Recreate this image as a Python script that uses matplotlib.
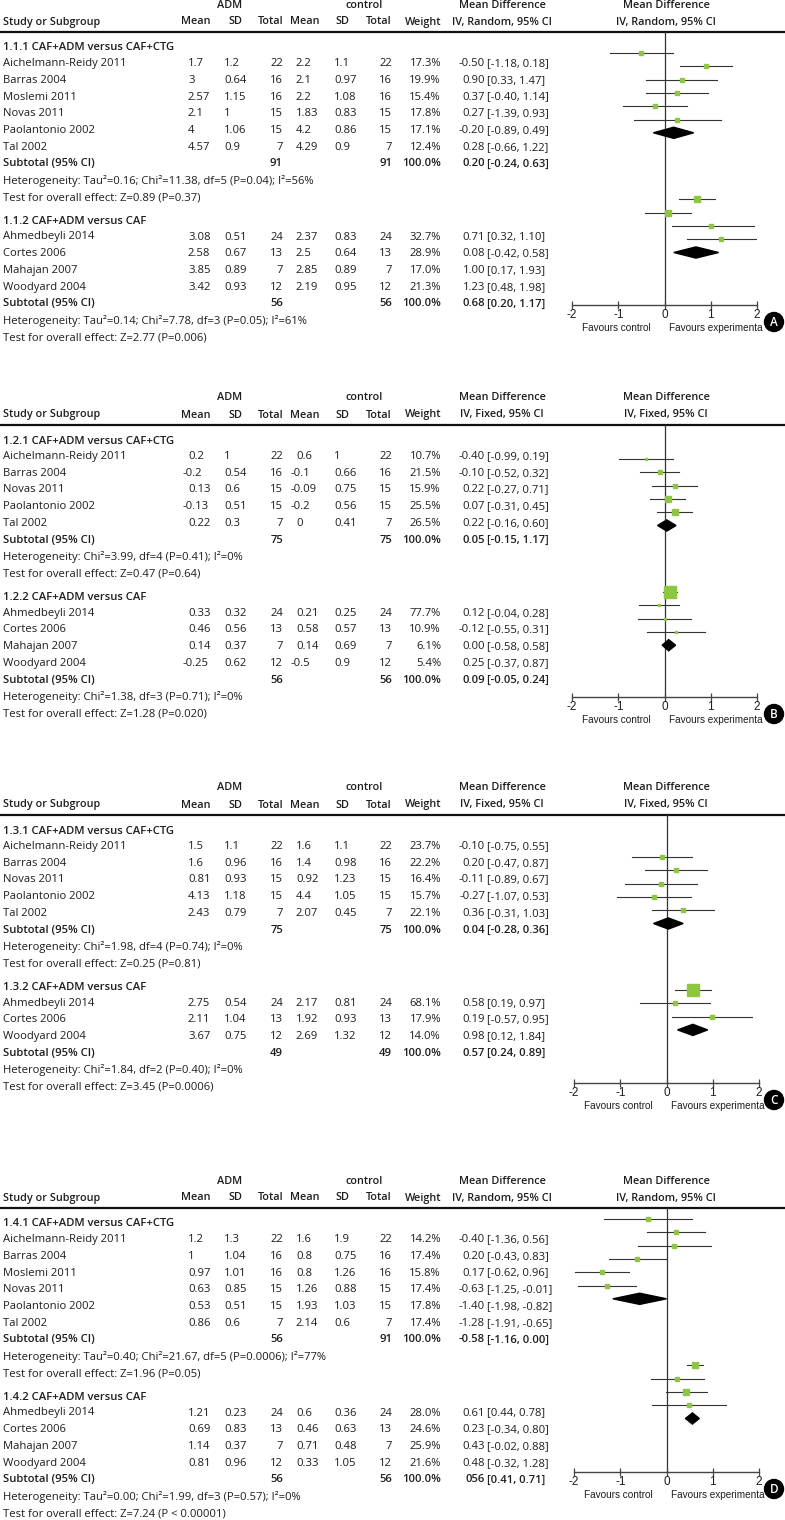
import matplotlib
matplotlib.use("Agg")
import matplotlib.pyplot as plt
from matplotlib.patches import Circle, Polygon

plt.rcParams['font.family'] = ['Open Sans', 'DejaVu Sans']

# ---- data: (study, adm mean, adm sd, adm n, ctl mean, ctl sd, ctl n, weight, CI text)
a1_title = "1.1.1 CAF+ADM versus CAF+CTG"
a1_rows = [
    ("Aichelmann-Reidy 2011", 1.7, 1.2, 22, 2.2, 1.1, 22, 17.3, "-0.50 [-1.18, 0.18]"),
    ("Barras 2004", 3, 0.64, 16, 2.1, 0.97, 16, 19.9, "0.90 [0.33, 1.47]"),
    ("Moslemi 2011", 2.57, 1.15, 16, 2.2, 1.08, 16, 15.4, "0.37 [-0.40, 1.14]"),
    ("Novas 2011", 2.1, 1, 15, 1.83, 0.83, 15, 17.8, "0.27 [-1.39, 0.93]"),
    ("Paolantonio 2002", 4, 1.06, 15, 4.2, 0.86, 15, 17.1, "-0.20 [-0.89, 0.49]"),
    ("Tal 2002", 4.57, 0.9, 7, 4.29, 0.9, 7, 12.4, "0.28 [-0.66, 1.22]"),
]
a1_sub = (91, 91, "0.20 [-0.24, 0.63]")
a1_het = "Heterogeneity: Tau²=0.16; Chi²=11.38, df=5 (P=0.04); I²=56%"
a1_test = "Test for overall effect: Z=0.89 (P=0.37)"
a1_md = [-0.50, 0.90, 0.37, 0.27, -0.20, 0.28]
a1_lo = [-1.18, 0.33, -0.40, -0.39, -0.89, -0.66]
a1_hi = [0.18, 1.47, 1.14, 0.93, 0.49, 1.22]
a1_dia = (0.20, -0.24, 0.63)

a2_title = "1.1.2 CAF+ADM versus CAF"
a2_rows = [
    ("Ahmedbeyli 2014", 3.08, 0.51, 24, 2.37, 0.83, 24, 32.7, "0.71 [0.32, 1.10]"),
    ("Cortes 2006", 2.58, 0.67, 13, 2.5, 0.64, 13, 28.9, "0.08 [-0.42, 0.58]"),
    ("Mahajan 2007", 3.85, 0.89, 7, 2.85, 0.89, 7, 17.0, "1.00 [0.17, 1.93]"),
    ("Woodyard 2004", 3.42, 0.93, 12, 2.19, 0.95, 12, 21.3, "1.23 [0.48, 1.98]"),
]
a2_sub = (56, 56, "0.68 [0.20, 1.17]")
a2_het = "Heterogeneity: Tau²=0.14; Chi²=7.78, df=3 (P=0.05); I²=61%"
a2_test = "Test for overall effect: Z=2.77 (P=0.006)"
a2_md = [0.71, 0.08, 1.00, 1.23]
a2_lo = [0.32, -0.42, 0.17, 0.48]
a2_hi = [1.10, 0.58, 1.93, 1.98]
a2_dia = (0.68, 0.20, 1.17)

b1_title = "1.2.1 CAF+ADM versus CAF+CTG"
b1_rows = [
    ("Aichelmann-Reidy 2011", 0.2, 1, 22, 0.6, 1, 22, 10.7, "-0.40 [-0.99, 0.19]"),
    ("Barras 2004", -0.2, 0.54, 16, -0.1, 0.66, 16, 21.5, "-0.10 [-0.52, 0.32]"),
    ("Novas 2011", 0.13, 0.6, 15, -0.09, 0.75, 15, 15.9, "0.22 [-0.27, 0.71]"),
    ("Paolantonio 2002", -0.13, 0.51, 15, -0.2, 0.56, 15, 25.5, "0.07 [-0.31, 0.45]"),
    ("Tal 2002", 0.22, 0.3, 7, 0, 0.41, 7, 26.5, "0.22 [-0.16, 0.60]"),
]
b1_sub = (75, 75, "0.05 [-0.15, 1.17]")
b1_het = "Heterogeneity: Chi²=3.99, df=4 (P=0.41); I²=0%"
b1_test = "Test for overall effect: Z=0.47 (P=0.64)"
b1_md = [-0.40, -0.10, 0.22, 0.07, 0.22]
b1_lo = [-0.99, -0.52, -0.27, -0.31, -0.16]
b1_hi = [0.19, 0.32, 0.71, 0.45, 0.60]
b1_dia = (0.05, -0.15, 0.25)

b2_title = "1.2.2 CAF+ADM versus CAF"
b2_rows = [
    ("Ahmedbeyli 2014", 0.33, 0.32, 24, 0.21, 0.25, 24, 77.7, "0.12 [-0.04, 0.28]"),
    ("Cortes 2006", 0.46, 0.56, 13, 0.58, 0.57, 13, 10.9, "-0.12 [-0.55, 0.31]"),
    ("Mahajan 2007", 0.14, 0.37, 7, 0.14, 0.69, 7, 6.1, "0.00 [-0.58, 0.58]"),
    ("Woodyard 2004", -0.25, 0.62, 12, -0.5, 0.9, 12, 5.4, "0.25 [-0.37, 0.87]"),
]
b2_sub = (56, 56, "0.09 [-0.05, 0.24]")
b2_het = "Heterogeneity: Chi²=1.38, df=3 (P=0.71); I²=0%"
b2_test = "Test for overall effect: Z=1.28 (P=0.020)"
b2_md = [0.12, -0.12, 0.00, 0.25]
b2_lo = [-0.04, -0.55, -0.58, -0.37]
b2_hi = [0.28, 0.31, 0.58, 0.87]
b2_dia = (0.09, -0.05, 0.24)

c1_title = "1.3.1 CAF+ADM versus CAF+CTG"
c1_rows = [
    ("Aichelmann-Reidy 2011", 1.5, 1.1, 22, 1.6, 1.1, 22, 23.7, "-0.10 [-0.75, 0.55]"),
    ("Barras 2004", 1.6, 0.96, 16, 1.4, 0.98, 16, 22.2, "0.20 [-0.47, 0.87]"),
    ("Novas 2011", 0.81, 0.93, 15, 0.92, 1.23, 15, 16.4, "-0.11 [-0.89, 0.67]"),
    ("Paolantonio 2002", 4.13, 1.18, 15, 4.4, 1.05, 15, 15.7, "-0.27 [-1.07, 0.53]"),
    ("Tal 2002", 2.43, 0.79, 7, 2.07, 0.45, 7, 22.1, "0.36 [-0.31, 1.03]"),
]
c1_sub = (75, 75, "0.04 [-0.28, 0.36]")
c1_het = "Heterogeneity: Chi²=1.98, df=4 (P=0.74); I²=0%"
c1_test = "Test for overall effect: Z=0.25 (P=0.81)"
c1_md = [-0.10, 0.20, -0.11, -0.27, 0.36]
c1_lo = [-0.75, -0.47, -0.89, -1.07, -0.31]
c1_hi = [0.55, 0.87, 0.67, 0.53, 1.03]
c1_dia = (0.04, -0.28, 0.36)

c2_title = "1.3.2 CAF+ADM versus CAF"
c2_rows = [
    ("Ahmedbeyli 2014", 2.75, 0.54, 24, 2.17, 0.81, 24, 68.1, "0.58 [0.19, 0.97]"),
    ("Cortes 2006", 2.11, 1.04, 13, 1.92, 0.93, 13, 17.9, "0.19 [-0.57, 0.95]"),
    ("Woodyard 2004", 3.67, 0.75, 12, 2.69, 1.32, 12, 14.0, "0.98 [0.12, 1.84]"),
]
c2_sub = (49, 49, "0.57 [0.24, 0.89]")
c2_het = "Heterogeneity: Chi²=1.84, df=2 (P=0.40); I²=0%"
c2_test = "Test for overall effect: Z=3.45 (P=0.0006)"
c2_md = [0.58, 0.19, 0.98]
c2_lo = [0.19, -0.57, 0.12]
c2_hi = [0.97, 0.95, 1.84]
c2_dia = (0.57, 0.24, 0.89)

d1_title = "1.4.1 CAF+ADM versus CAF+CTG"
d1_rows = [
    ("Aichelmann-Reidy 2011", 1.2, 1.3, 22, 1.6, 1.9, 22, 14.2, "-0.40 [-1.36, 0.56]"),
    ("Barras 2004", 1, 1.04, 16, 0.8, 0.75, 16, 17.4, "0.20 [-0.43, 0.83]"),
    ("Moslemi 2011", 0.97, 1.01, 16, 0.8, 1.26, 16, 15.8, "0.17 [-0.62, 0.96]"),
    ("Novas 2011", 0.63, 0.85, 15, 1.26, 0.88, 15, 17.4, "-0.63 [-1.25, -0.01]"),
    ("Paolantonio 2002", 0.53, 0.51, 15, 1.93, 1.03, 15, 17.8, "-1.40 [-1.98, -0.82]"),
    ("Tal 2002", 0.86, 0.6, 7, 2.14, 0.6, 7, 17.4, "-1.28 [-1.91, -0.65]"),
]
d1_sub = (56, 91, "-0.58 [-1.16, 0.00]")
d1_het = "Heterogeneity: Tau²=0.40; Chi²=21.67, df=5 (P=0.0006); I²=77%"
d1_test = "Test for overall effect: Z=1.96 (P=0.05)"
d1_md = [-0.40, 0.20, 0.17, -0.63, -1.40, -1.28]
d1_lo = [-1.36, -0.43, -0.62, -1.25, -1.98, -1.91]
d1_hi = [0.56, 0.83, 0.96, -0.01, -0.82, -0.65]
d1_dia = (-0.58, -1.16, 0.00)

d2_title = "1.4.2 CAF+ADM versus CAF"
d2_rows = [
    ("Ahmedbeyli 2014", 1.21, 0.23, 24, 0.6, 0.36, 24, 28.0, "0.61 [0.44, 0.78]"),
    ("Cortes 2006", 0.69, 0.83, 13, 0.46, 0.63, 13, 24.6, "0.23 [-0.34, 0.80]"),
    ("Mahajan 2007", 1.14, 0.37, 7, 0.71, 0.48, 7, 25.9, "0.43 [-0.02, 0.88]"),
    ("Woodyard 2004", 0.81, 0.96, 12, 0.33, 1.05, 12, 21.6, "0.48 [-0.32, 1.28]"),
]
d2_sub = (56, 56, "056 [0.41, 0.71]")
d2_het = "Heterogeneity: Tau²=0.00; Chi²=1.99, df=3 (P=0.57); I²=0%"
d2_test = "Test for overall effect: Z=7.24 (P < 0.00001)"
d2_md = [0.61, 0.23, 0.43, 0.48]
d2_lo = [0.44, -0.34, -0.02, -0.32]
d2_hi = [0.78, 0.80, 0.88, 1.28]
d2_dia = (0.56, 0.41, 0.71)

ticks = [-2, -1, 0, 1, 2]

# ---- layout (pixels)
W, H = 785, 1520
FS = 8.1
HFS = 7.8
TXT = '#1e1e1e'
GREEN = '#8dc63f'
ROW = 16.75
PROW = 13.3
PLOTFONT = ['Liberation Sans', 'DejaVu Sans']

fig = plt.figure(figsize=(W / 100, H / 100), dpi=100)
bg = fig.add_axes([0, 0, 1, 1])
bg.set_xlim(0, W)
bg.set_ylim(H, 0)
bg.axis('off')


def t(x, y, s, ha='left', bold=False, size=FS, color=TXT):
    bg.text(x, y, s, ha=ha, va='center', fontsize=size, color=color,
            fontweight='semibold' if bold else 'normal')


def h(x, y, s, ha='center'):
    t(x, y, s, ha=ha, bold=True, size=HFS)


def num(x, y, v):
    s = str(v)
    t(x - 5 if s.startswith('-') else x, y, s)


def ci_text(y, s, bold=False):
    est, rest = s.split(' ', 1)
    t(485, y, est, ha='right', bold=bold)
    t(487, y, rest, bold=bold)


def table_group(y, title, rows, sub, het, test):
    t(3, y, title, bold=True)
    y += 15.5
    for r in rows:
        t(3, y, r[0])
        num(188, y, r[1])
        num(224, y, r[2])
        t(283, y, str(r[3]), ha='right')
        num(296, y, r[4])
        num(334, y, r[5])
        t(392, y, str(r[6]), ha='right')
        t(441, y, f"{r[7]:.1f}%", ha='right')
        ci_text(y, r[8])
        y += ROW
    t(3, y, "Subtotal (95% CI)", bold=True)
    t(283, y, str(sub[0]), ha='right', bold=True)
    t(392, y, str(sub[1]), ha='right', bold=True)
    t(441, y, "100.0%", ha='right', bold=True)
    ci_text(y, sub[2], bold=True)
    y += ROW
    t(3, y, het)
    y += ROW
    t(3, y, test)
    return y


def forest(x0, L, first, axis_y, g2start, groups, method, letter):
    # header
    h(230, L - 27, "ADM")
    h(364, L - 27, "control")
    h(502, L - 27, "Mean Difference")
    h(666, L - 27, "Mean Difference")
    h(3, L - 10, "Study or Subgroup", ha='left')
    h(196, L - 10, "Mean")
    h(235, L - 10, "SD")
    h(283, L - 10, "Total", ha='right')
    h(305, L - 10, "Mean")
    h(342, L - 10, "SD")
    h(392, L - 10, "Total", ha='right')
    h(441, L - 10, "Weight", ha='right')
    h(502, L - 10, method)
    h(666, L - 10, method)
    bg.plot([0, W], [L, L], color='#111111', lw=1.6)

    # table
    y = L + 16
    for g in groups:
        y = table_group(y, *g[:5])
        y += 24

    # plot
    ax = fig.add_axes([x0 / W, 1 - axis_y / H, 185 / W, (axis_y - L) / H])
    ax.patch.set_alpha(0)
    ax.set_xlim(-2, 2)
    ax.set_ylim((axis_y - first) / PROW, (L - first) / PROW)
    for s in ['left', 'right', 'top']:
        ax.spines[s].set_visible(False)
    ax.spines['bottom'].set_color('#444444')
    ax.spines['bottom'].set_linewidth(1.0)
    ax.set_yticks([])
    ax.set_xticks(ticks)
    ax.set_xticklabels([str(v) for v in ticks], fontsize=8.5, color=TXT,
                       family=PLOTFONT)
    ax.tick_params(axis='x', direction='inout', length=6, width=0.9,
                   color='#444444', pad=0)
    ax.axvline(0, color='#333333', lw=0.9, zorder=1)
    for gi, g in enumerate(groups):
        rows, md, lo, hi, dia = g[1], g[5], g[6], g[7], g[8]
        start = 0 if gi == 0 else g2start
        for k in range(len(md)):
            yy = start + k
            ax.plot([lo[k], hi[k]], [yy, yy], color='#333333', lw=0.8, zorder=2)
            side = 1.3 + 0.15 * rows[k][7]
            ax.plot(md[k], yy, marker='s', ms=side * 0.72, color=GREEN,
                    mec=GREEN, lw=0, zorder=3)
        yd = start + len(md)
        ax.add_patch(Polygon([(dia[1], yd), (dia[0], yd - 0.42),
                              (dia[2], yd), (dia[0], yd + 0.42)],
                             closed=True, color='black', zorder=3))
    tr = ax.get_xaxis_transform()
    ax.annotate("Favours control", xy=(-0.3, 0), xycoords=tr,
                xytext=(0, -23), textcoords='offset pixels', ha='right',
                va='center', fontsize=7.2, color=TXT, family=PLOTFONT)
    ax.annotate("Favours experimenta", xy=(0.1, 0), xycoords=tr,
                xytext=(0, -23), textcoords='offset pixels', ha='left',
                va='center', fontsize=7.2, color=TXT, family=PLOTFONT)
    bg.add_patch(Circle((774, axis_y + 17), 9.5, color='black'))
    t(774, axis_y + 17.5, letter, ha='center', bold=True, size=8.5, color='white')


forest(572, 32, 53, 305, 11,
       [(a1_title, a1_rows, a1_sub, a1_het, a1_test, a1_md, a1_lo, a1_hi, a1_dia),
        (a2_title, a2_rows, a2_sub, a2_het, a2_test, a2_md, a2_lo, a2_hi, a2_dia)],
       "IV, Random, 95% CI", "A")
forest(572, 425, 459, 697, 10,
       [(b1_title, b1_rows, b1_sub, b1_het, b1_test, b1_md, b1_lo, b1_hi, b1_dia),
        (b2_title, b2_rows, b2_sub, b2_het, b2_test, b2_md, b2_lo, b2_hi, b2_dia)],
       "IV, Fixed, 95% CI", "B")
forest(574, 815, 857, 1083, 10,
       [(c1_title, c1_rows, c1_sub, c1_het, c1_test, c1_md, c1_lo, c1_hi, c1_dia),
        (c2_title, c2_rows, c2_sub, c2_het, c2_test, c2_md, c2_lo, c2_hi, c2_dia)],
       "IV, Fixed, 95% CI", "C")
forest(574, 1208, 1219, 1472, 11,
       [(d1_title, d1_rows, d1_sub, d1_het, d1_test, d1_md, d1_lo, d1_hi, d1_dia),
        (d2_title, d2_rows, d2_sub, d2_het, d2_test, d2_md, d2_lo, d2_hi, d2_dia)],
       "IV, Random, 95% CI", "D")

fig.savefig("out.png", dpi=100)
